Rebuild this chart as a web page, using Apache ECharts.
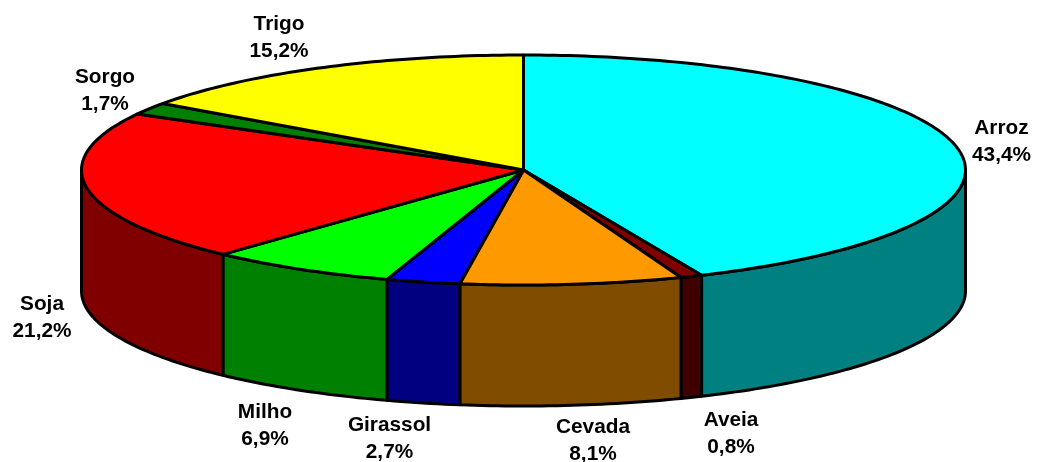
<!DOCTYPE html>
<html><head><meta charset="utf-8">
<style>html,body{margin:0;padding:0;background:#fff}#c{width:1037px;height:462px}</style>
<script src="https://cdn.jsdelivr.net/npm/echarts@6/dist/echarts.min.js"></script>
</head><body><div id="c"></div>
<script>
const categories = ['Arroz','Aveia','Cevada','Girassol','Milho','Soja','Sorgo','Trigo'];
const values = [43.4,0.8,8.1,2.7,6.9,21.2,1.7,15.2];
const valueLabels = ['43,4%','0,8%','8,1%','2,7%','6,9%','21,2%','1,7%','15,2%'];
const topColors = ['#00FFFF','#800000','#FF9900','#0000FF','#00FF00','#FF0000','#008000','#FFFF00'];
const sideColors = ['#008080','#400000','#804C00','#000080','#008000','#800000','#004000','#808000'];
const labelCenters = [[1001.5,141.5],[731,433.5],[593,441],[389.5,438.5],[265,426],[42,317.5],[105,90.5],[279,37.5]];

const cx = 523.5, cy = 170, rx = 442, ry = 115, depth = 121;
const total = values.reduce((a,b)=>a+b,0);
const pt = (deg, dy=0) => {
  const t = deg*Math.PI/180;
  return [cx + rx*Math.sin(t), cy - ry*Math.cos(t) + dy];
};
const arc = (a, b, dy=0) => {
  const n = Math.max(2, Math.ceil(Math.abs(b-a)/1));
  const out = [];
  for (let i=0;i<=n;i++) out.push(pt(a+(b-a)*i/n, dy));
  return out;
};
const starts = [];
values.reduce((s,v,i)=>{starts[i]=s;return s+v;},0);

function renderItem(params, api){
  const i = params.dataIndex;
  const a0 = api.value(0)/total*360, a1 = a0 + api.value(1)/total*360;
  const children = [];
  const s0 = Math.max(a0,90), s1 = Math.min(a1,270);
  if (s1 > s0) {
    children.push({type:'polygon', z2:1,
      shape:{points: arc(s0,s1).concat(arc(s1,s0,depth))},
      style:{fill:sideColors[i], stroke:'#000', lineWidth:3, lineJoin:'round'}});
  }
  children.push({type:'polygon', z2:2,
    shape:{points:[[cx,cy]].concat(arc(a0,a1))},
    style:{fill:topColors[i], stroke:'#000', lineWidth:3, lineJoin:'round'}});
  children.push({type:'text', z2:3,
    style:{text:categories[i]+'\n'+valueLabels[i], x:labelCenters[i][0], y:labelCenters[i][1],
      align:'center', verticalAlign:'middle', fill:'#000',
      font:'bold 20.8px "Liberation Sans", Arial, sans-serif', lineHeight:27}});
  return {type:'group', children};
}

const chart = echarts.init(document.getElementById('c'), null, {renderer:'canvas'});
chart.setOption({
  animation:false,
  backgroundColor:'#fff',
  series:[{type:'custom', coordinateSystem:'none', renderItem,
    encode:{value:1, itemName:2},
    data: categories.map((c,i)=>[starts[i], values[i], c])}]
});
</script></body></html>
